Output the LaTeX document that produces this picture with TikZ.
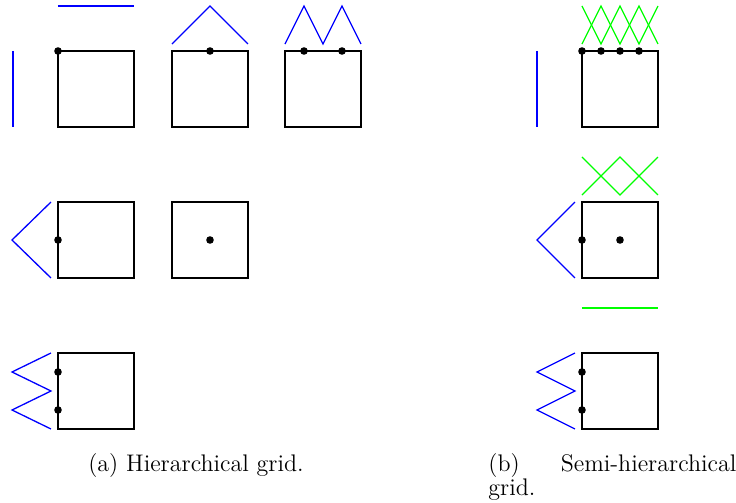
\documentclass[tikz,border=0pt]{standalone}
\begin{document}
\begin{tikzpicture}[x=0.5pt,y=-0.5pt,
  cell/.style={draw=black,line width=0.55pt,minimum size=38pt,inner sep=0pt,outer sep=0pt},
  dotmark/.style={circle,fill=black,inner sep=0pt,minimum size=3.8pt},
  bluel/.style={draw=blue,line width=0.65pt},
  greenl/.style={draw=green,line width=0.65pt},
  captext/.style={font=\fontsize{12}{12}\selectfont,inner sep=0pt}]
\useasboundingbox (0,0) rectangle (736,503);
% ---------- (a) ----------
\node[cell] (a1) at (96,89) {};
\node[cell] (a2) at (210,89) {};
\node[cell] (a3) at (323,89) {};
\node[cell] (a4) at (96,240) {};
\node[cell] (a5) at (210,240) {};
\node[cell] (a6) at (96,391) {};
% blue
\draw[bluel] (13,51) -- (13,127);
\draw[bluel] (58,6) -- (134,6);
\draw[bluel] (172,44) -- (210,6) -- (248,44);
\draw[bluel] (285,44) -- (304,6) -- (323,44) -- (342,6) -- (361,44);
\draw[bluel] (51,202) -- (12,240) -- (51,278);
\draw[bluel] (51,353) -- (12,372) -- (51,391) -- (12,410) -- (51,429);
% dots
\node[dotmark] (d1) at (a1.north west) {};
\node[dotmark] (d2) at (a2.north) {};
\node[dotmark] (d3) at (304,51) {};
\node[dotmark] (d4) at (342,51) {};
\node[dotmark] (d5) at (a4.west) {};
\node[dotmark] (d6) at (a5.center) {};
\node[dotmark] (d7) at (58,372) {};
\node[dotmark] (d8) at (58,410) {};
% ---------- (b) ----------
\node[cell] (b1) at (620,89) {};
\node[cell] (b2) at (620,240) {};
\node[cell] (b3) at (620,391) {};
\draw[bluel] (537,51) -- (537,127);
\draw[greenl] (582,6) -- (601,44) -- (620,6) -- (639,44) -- (658,6);
\draw[greenl] (582,44) -- (601,6) -- (620,44) -- (639,6) -- (658,44);
\draw[greenl] (582,157) -- (620,195) -- (658,157);
\draw[greenl] (582,195) -- (620,157) -- (658,195);
\draw[bluel] (575,202) -- (537,240) -- (575,278);
\draw[greenl] (582,308) -- (658,308);
\draw[bluel] (575,353) -- (537,372) -- (575,391) -- (537,410) -- (575,429);
\node[dotmark] (e1) at (b1.north west) {};
\node[dotmark] (e2) at (601,51) {};
\node[dotmark] (e3) at (620,51) {};
\node[dotmark] (e4) at (639,51) {};
\node[dotmark] (e5) at (b2.west) {};
\node[dotmark] (e6) at (b2.center) {};
\node[dotmark] (e7) at (582,372) {};
\node[dotmark] (e8) at (582,410) {};
% captions
\node[captext,anchor=base] (capa) at (196,472) {(a) Hierarchical grid.};
\node[captext,anchor=base west,align=left] (capb) at (488,495) {\hbox to 124pt{(b)\hfill Semi-hierarchical}\\grid.};
\end{tikzpicture}
\end{document}
